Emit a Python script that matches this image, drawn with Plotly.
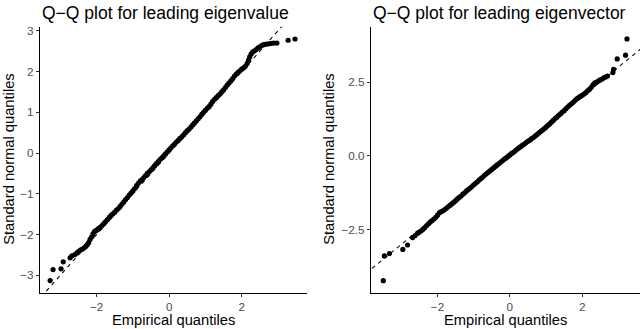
import plotly.graph_objects as go

# ---------------- data ----------------
# Left panel: leading eigenvalue  (x = empirical quantile, y = standard normal quantile)
eigval_x = [-3.28, -3.20, -2.98, -2.92, -2.73, -2.68, -2.60,
            -2.54, -2.50, -2.45, -2.40, -2.35, -2.30, -2.26, -2.22, -2.18, -2.14, -2.10, -2.06, -2.02,
            -1.98, -1.94, -1.90, -1.85, -1.80, -1.75, -1.70, -1.65, -1.60, -1.55, -1.50, -1.45, -1.40,
            -1.35, -1.30, -1.25, -1.20, -1.15, -1.10, -1.05, -1.00, -0.95, -0.90, -0.85, -0.80, -0.75,
            -0.70, -0.65, -0.60, -0.55, -0.50, -0.45, -0.40, -0.35, -0.30, -0.25, -0.20, -0.15, -0.10,
            -0.05, 0.00, 0.05, 0.10, 0.15, 0.20, 0.25, 0.30, 0.35, 0.40, 0.45, 0.50, 0.55, 0.60, 0.65,
            0.70, 0.75, 0.80, 0.85, 0.90, 0.95, 1.00, 1.05, 1.10, 1.15, 1.20, 1.25, 1.30, 1.35, 1.40,
            1.45, 1.50, 1.55, 1.60, 1.65, 1.70, 1.75, 1.80, 1.85, 1.90, 1.95, 2.00, 2.05, 2.10, 2.15,
            2.19, 2.22, 2.26, 2.30, 2.35, 2.40, 2.45, 2.50, 2.55, 2.60, 2.65,
            2.72, 2.80, 2.88, 2.97, 3.28, 3.47]
eigval_y = [-3.13, -2.86, -2.84, -2.67, -2.57, -2.52, -2.49,
            -2.45, -2.42, -2.38, -2.36, -2.33, -2.29, -2.25, -2.20, -2.12, -2.06, -1.98, -1.93, -1.90,
            -1.88, -1.85, -1.82, -1.78, -1.73, -1.68, -1.63, -1.58, -1.53, -1.49, -1.45, -1.40, -1.36,
            -1.31, -1.25, -1.20, -1.14, -1.09, -1.03, -0.98, -0.93, -0.87, -0.80, -0.74, -0.69, -0.65,
            -0.60, -0.55, -0.50, -0.46, -0.41, -0.36, -0.31, -0.26, -0.21, -0.16, -0.12, -0.07, -0.02,
            0.03, 0.08, 0.13, 0.18, 0.22, 0.27, 0.31, 0.36, 0.40, 0.45, 0.50, 0.55, 0.59, 0.64, 0.69,
            0.74, 0.79, 0.84, 0.89, 0.95, 1.00, 1.05, 1.10, 1.14, 1.20, 1.27, 1.32, 1.36, 1.41, 1.45,
            1.50, 1.55, 1.61, 1.67, 1.72, 1.77, 1.83, 1.89, 1.94, 1.98, 2.02, 2.06, 2.09, 2.13, 2.20,
            2.28, 2.36, 2.43, 2.48, 2.51, 2.54, 2.58, 2.61, 2.64, 2.66, 2.67,
            2.68, 2.69, 2.70, 2.70, 2.77, 2.80]

# Right panel: leading eigenvector
eigvec_x = [-3.50, -3.47, -3.33, -2.96, -2.83, -2.69, -2.62,
            -2.55, -2.50, -2.45, -2.40, -2.35, -2.30, -2.25, -2.20, -2.15, -2.10, -2.05, -2.00, -1.95,
            -1.90, -1.85, -1.80, -1.75, -1.70, -1.65, -1.60, -1.55, -1.50, -1.45, -1.40, -1.35, -1.30,
            -1.25, -1.20, -1.15, -1.10, -1.05, -1.00, -0.95, -0.90, -0.85, -0.80, -0.75, -0.70, -0.65,
            -0.60, -0.55, -0.50, -0.45, -0.40, -0.35, -0.30, -0.25, -0.20, -0.15, -0.10, -0.05, 0.00,
            0.05, 0.10, 0.15, 0.20, 0.25, 0.30, 0.35, 0.40, 0.45, 0.50, 0.55, 0.60, 0.65, 0.70, 0.75,
            0.80, 0.85, 0.90, 0.95, 1.00, 1.05, 1.10, 1.15, 1.20, 1.25, 1.30, 1.35, 1.40, 1.45, 1.50,
            1.55, 1.60, 1.65, 1.70, 1.75, 1.80, 1.85, 1.90, 1.95, 2.00, 2.05, 2.10, 2.15, 2.20, 2.25,
            2.30, 2.35, 2.40, 2.45, 2.50, 2.55, 2.60, 2.65, 2.70,
            2.85, 2.87, 2.97, 3.20, 3.24]
eigvec_y = [-4.23, -3.39, -3.31, -3.17, -3.02, -2.77, -2.70,
            -2.62, -2.58, -2.54, -2.49, -2.43, -2.36, -2.30, -2.24, -2.19, -2.14, -2.08, -2.01, -1.93,
            -1.89, -1.86, -1.82, -1.77, -1.72, -1.67, -1.62, -1.57, -1.52, -1.46, -1.41, -1.36, -1.30,
            -1.25, -1.19, -1.14, -1.09, -1.04, -0.98, -0.93, -0.88, -0.82, -0.77, -0.72, -0.66, -0.61,
            -0.56, -0.51, -0.46, -0.41, -0.36, -0.31, -0.26, -0.21, -0.16, -0.11, -0.07, -0.02, 0.03,
            0.08, 0.12, 0.17, 0.22, 0.27, 0.31, 0.36, 0.40, 0.45, 0.49, 0.53, 0.58, 0.62, 0.67, 0.72,
            0.77, 0.82, 0.87, 0.92, 0.97, 1.03, 1.08, 1.14, 1.20, 1.26, 1.31, 1.37, 1.42, 1.48, 1.53,
            1.59, 1.65, 1.71, 1.76, 1.81, 1.87, 1.93, 1.97, 2.01, 2.05, 2.09, 2.14, 2.20, 2.25, 2.32,
            2.40, 2.47, 2.50, 2.53, 2.57, 2.60, 2.64, 2.67, 2.70,
            2.82, 2.93, 3.28, 3.41, 3.96]

# reference line y = intercept + slope * x
ref_intercept = 0.0
ref_slope = 1.0

titles = ["Q−Q plot for leading eigenvalue", "Q−Q plot for leading eigenvector"]
x_title = "Empirical quantiles"
y_title = "Standard normal quantiles"

left_xticks = [-2, 0, 2]
left_xtext = ["−2", "0", "2"]
left_yticks = [-3, -2, -1, 0, 1, 2, 3]
left_ytext = ["−3", "−2", "−1", "0", "1", "2", "3"]
right_xticks = [-2, 0, 2]
right_xtext = ["−2", "0", "2"]
right_yticks = [-2.5, 0.0, 2.5]
right_ytext = ["−2.5", "0.0", "2.5"]

# ---------------- layout geometry ----------------
W, H = 640, 329
left_xrange = [-3.56, 3.80]
left_yrange = [-3.43, 3.10]
right_xrange = [-3.84, 3.60]
right_yrange = [-4.64, 4.37]

def px_x(p):
    return p / W

def px_y(p):
    return 1 - p / H

dom_y = [px_y(292.5), px_y(24)]
dom_x1 = [px_x(40), px_x(307)]
dom_x2 = [px_x(371), px_x(640)]

FONT = "Liberation Sans, Arial, Helvetica, sans-serif"

fig = go.Figure()

def add_panel(xs, ys, xr, xa, ya):
    lx = [xr[0] - 1, xr[1] + 1]
    ly = [ref_intercept + ref_slope * v for v in lx]
    fig.add_trace(go.Scatter(x=lx, y=ly, mode="lines", xaxis=xa, yaxis=ya,
                             line=dict(color="black", width=1.05, dash="4px,4px"),
                             hoverinfo="skip", showlegend=False))
    fig.add_trace(go.Scatter(x=xs, y=ys, mode="markers", xaxis=xa, yaxis=ya,
                             marker=dict(color="black", size=5.2, line=dict(width=0)),
                             showlegend=False))

add_panel(eigval_x, eigval_y, left_xrange, "x", "y")
add_panel(eigvec_x, eigvec_y, right_xrange, "x2", "y2")

axis_common = dict(showgrid=False, zeroline=False, showline=True, linecolor="black", linewidth=1.1,
                   ticks="outside", ticklen=3, tickwidth=1, tickcolor="#333333",
                   tickfont=dict(family=FONT, size=11.7, color="#4D4D4D"), mirror=False)

fig.update_layout(
    width=W, height=H, autosize=False,
    margin=dict(l=0, r=0, t=0, b=0),
    paper_bgcolor="white", plot_bgcolor="white",
    xaxis=dict(domain=dom_x1, range=left_xrange, tickvals=left_xticks, ticktext=left_xtext,
               anchor="y", **axis_common),
    yaxis=dict(domain=dom_y, range=left_yrange, tickvals=left_yticks, ticktext=left_ytext,
               anchor="x", **axis_common),
    xaxis2=dict(domain=dom_x2, range=right_xrange, tickvals=right_xticks, ticktext=right_xtext,
                anchor="y2", **axis_common),
    yaxis2=dict(domain=dom_y, range=right_yrange, tickvals=right_yticks, ticktext=right_ytext,
                anchor="x2", **axis_common),
)

annos = []
for i, dx in enumerate([dom_x1, dom_x2]):
    annos.append(dict(text=titles[i], xref="paper", yref="paper", x=dx[0], y=px_y(10),
                      xanchor="left", yanchor="middle", showarrow=False,
                      font=dict(family=FONT, size=17.5, color="black")))
    annos.append(dict(text=x_title, xref="paper", yref="paper", x=(dx[0] + dx[1]) / 2, y=px_y(319.5),
                      xanchor="center", yanchor="middle", showarrow=False,
                      font=dict(family=FONT, size=14.7, color="black")))
ytitle_x = [9, 329]
for xp in ytitle_x:
    annos.append(dict(text=y_title, xref="paper", yref="paper", x=px_x(xp), y=(dom_y[0] + dom_y[1]) / 2,
                      xanchor="center", yanchor="middle", textangle=-90, showarrow=False,
                      font=dict(family=FONT, size=14.7, color="black")))
fig.update_layout(annotations=annos)

fig.write_html("out.html", config={"displayModeBar": False},
               post_script="document.body.style.margin='0px';document.body.style.overflow='hidden';")
